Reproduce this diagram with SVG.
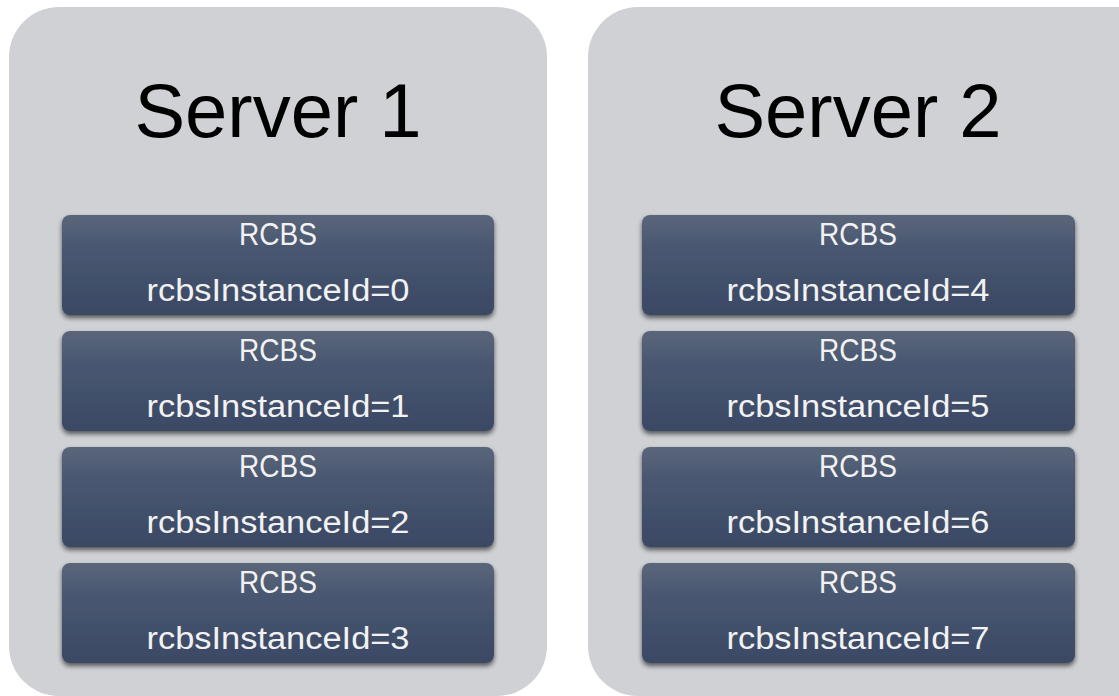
<svg xmlns="http://www.w3.org/2000/svg" width="1119" height="696" viewBox="0 0 1119 696">
<defs>
<linearGradient id="g" x1="0" y1="0" x2="0" y2="1">
<stop offset="0" stop-color="#5a667a"/>
<stop offset="0.35" stop-color="#485670"/>
<stop offset="1" stop-color="#3a4964"/>
</linearGradient>
<filter id="sh" x="-5%" y="-10%" width="110%" height="130%">
<feGaussianBlur in="SourceAlpha" stdDeviation="2.5"/>
<feOffset dx="0" dy="3" result="b"/>
<feComponentTransfer><feFuncA type="linear" slope="0.6"/></feComponentTransfer>
<feMerge><feMergeNode/><feMergeNode in="SourceGraphic"/></feMerge>
</filter>
</defs>
<style>
.srv{fill:#d0d1d5}
.box{fill:url(#g);filter:url(#sh)}
.title{font-family:"Liberation Sans",Arial,sans-serif;font-size:76px;fill:#000;text-anchor:middle}
.t{font-family:"Liberation Sans",Arial,sans-serif;font-size:31px;fill:#f2f2f2;text-anchor:middle}
</style>
<rect width="1119" height="696" fill="#ffffff"/>
<g id="server1">
<rect class="srv" x="9" y="7" width="538" height="689" rx="50"/>
<text class="title" x="278" y="137">Server 1</text>
</g>
<g id="server2">
<rect class="srv" x="588" y="7" width="581" height="689" rx="50"/>
<text class="title" x="858" y="137">Server 2</text>
</g>
<g id="rcbs0"><rect class="box" x="62" y="215" width="432" height="100" rx="8"/><text class="t" x="278" y="245" textLength="78" lengthAdjust="spacingAndGlyphs">RCBS</text><text class="t" x="278" y="301" textLength="263" lengthAdjust="spacingAndGlyphs">rcbsInstanceId=0</text></g>
<g id="rcbs1"><rect class="box" x="62" y="331" width="432" height="100" rx="8"/><text class="t" x="278" y="361" textLength="78" lengthAdjust="spacingAndGlyphs">RCBS</text><text class="t" x="278" y="417" textLength="263" lengthAdjust="spacingAndGlyphs">rcbsInstanceId=1</text></g>
<g id="rcbs2"><rect class="box" x="62" y="447" width="432" height="100" rx="8"/><text class="t" x="278" y="477" textLength="78" lengthAdjust="spacingAndGlyphs">RCBS</text><text class="t" x="278" y="533" textLength="263" lengthAdjust="spacingAndGlyphs">rcbsInstanceId=2</text></g>
<g id="rcbs3"><rect class="box" x="62" y="563" width="432" height="100" rx="8"/><text class="t" x="278" y="593" textLength="78" lengthAdjust="spacingAndGlyphs">RCBS</text><text class="t" x="278" y="649" textLength="263" lengthAdjust="spacingAndGlyphs">rcbsInstanceId=3</text></g>
<g id="rcbs4"><rect class="box" x="642" y="215" width="433" height="100" rx="8"/><text class="t" x="858" y="245" textLength="78" lengthAdjust="spacingAndGlyphs">RCBS</text><text class="t" x="858" y="301" textLength="263" lengthAdjust="spacingAndGlyphs">rcbsInstanceId=4</text></g>
<g id="rcbs5"><rect class="box" x="642" y="331" width="433" height="100" rx="8"/><text class="t" x="858" y="361" textLength="78" lengthAdjust="spacingAndGlyphs">RCBS</text><text class="t" x="858" y="417" textLength="263" lengthAdjust="spacingAndGlyphs">rcbsInstanceId=5</text></g>
<g id="rcbs6"><rect class="box" x="642" y="447" width="433" height="100" rx="8"/><text class="t" x="858" y="477" textLength="78" lengthAdjust="spacingAndGlyphs">RCBS</text><text class="t" x="858" y="533" textLength="263" lengthAdjust="spacingAndGlyphs">rcbsInstanceId=6</text></g>
<g id="rcbs7"><rect class="box" x="642" y="563" width="433" height="100" rx="8"/><text class="t" x="858" y="593" textLength="78" lengthAdjust="spacingAndGlyphs">RCBS</text><text class="t" x="858" y="649" textLength="263" lengthAdjust="spacingAndGlyphs">rcbsInstanceId=7</text></g>
<g id="connectors"/>
</svg>
